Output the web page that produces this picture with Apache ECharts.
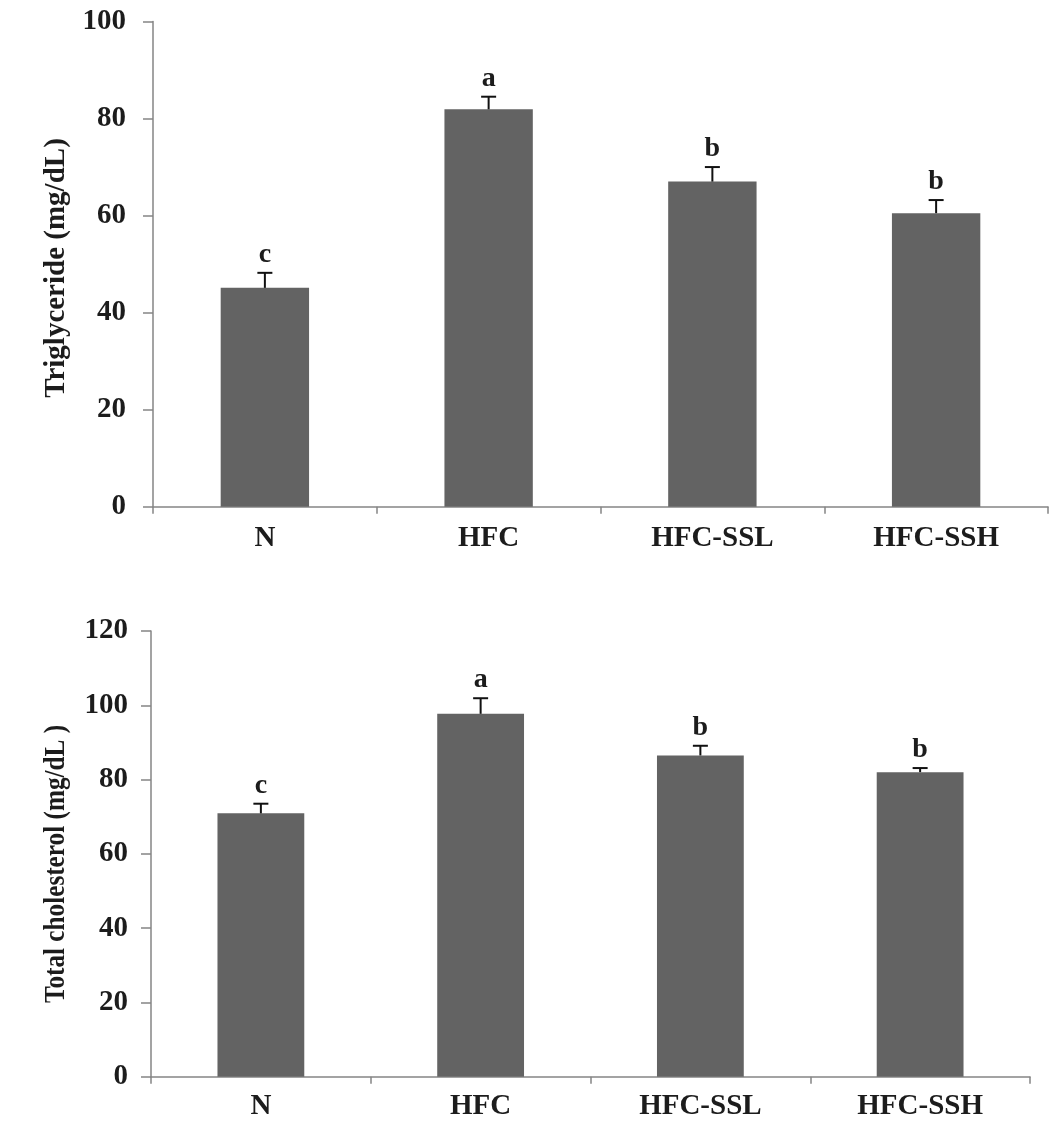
<!DOCTYPE html>
<html>
<head>
<meta charset="utf-8">
<script src="https://cdn.jsdelivr.net/npm/echarts@6/dist/echarts.min.js"></script>
<style>
  html, body { margin: 0; padding: 0; background: #ffffff; }
  #chart { width: 1049px; height: 1121px; }
</style>
</head>
<body>
<div id="chart"></div>
<script>
// Groups
const groups = ['N', 'HFC', 'HFC-SSL', 'HFC-SSH'];

// Serum triglyceride (mg/dL): means, SE and significance letters
const tgMean = [45.1, 81.9, 67.0, 60.5];
const tgErr = [3.1, 2.6, 3.0, 2.7];
const tgLetters = ['c', 'a', 'b', 'b'];
const tgTicks = [0, 20, 40, 60, 80, 100];

// Serum total cholesterol (mg/dL): means, SE and significance letters
const tcMean = [70.9, 97.7, 86.5, 82.0];
const tcErr = [2.6, 4.2, 2.6, 1.1];
const tcLetters = ['c', 'a', 'b', 'b'];
const tcTicks = [0, 20, 40, 60, 80, 100, 120];

const tgTitle = 'Triglyceride (mg/dL)';
const tcTitle = 'Total cholesterol (mg/dL )';

const FONT = '"Liberation Serif", "Times New Roman", serif';
const INK = '#1c1c1c';
const AXIS = '#858585';
const BAR = '#636363';

function errorSeries(idx, means, errs, letters) {
  return {
    type: 'custom',
    xAxisIndex: idx,
    yAxisIndex: idx,
    data: means.map((m, i) => [i, m, errs[i]]),
    z: 5,
    renderItem: function (params, api) {
      const i = api.value(0);
      const base = api.coord([i, api.value(1)]);
      const top = api.coord([i, api.value(1) + api.value(2)]);
      const cap = 7.5;
      return {
        type: 'group',
        children: [
          { type: 'line', shape: { x1: base[0], y1: base[1], x2: top[0], y2: top[1] },
            style: { stroke: '#111', lineWidth: 2 } },
          { type: 'line', shape: { x1: top[0] - cap, y1: top[1], x2: top[0] + cap, y2: top[1] },
            style: { stroke: '#111', lineWidth: 2 } },
          { type: 'text', x: top[0], y: top[1] - 4,
            style: { text: letters[params.dataIndex], fill: INK, font: 'bold 28px ' + FONT,
                     align: 'center', verticalAlign: 'bottom' } }
        ]
      };
    }
  };
}

function xAxis(idx) {
  return {
    type: 'category',
    gridIndex: idx,
    data: groups,
    boundaryGap: true,
    axisLine: { lineStyle: { color: AXIS, width: 1.5 } },
    axisTick: { show: true, length: 7, inside: false, lineStyle: { color: AXIS, width: 1.5 } },
    axisLabel: { color: INK, fontFamily: FONT, fontWeight: 'bold', fontSize: 29,
                 margin: idx === 0 ? 17 : 15 },
    splitLine: { show: false }
  };
}

function yAxis(idx, ticks) {
  return {
    type: 'value',
    gridIndex: idx,
    min: ticks[0],
    max: ticks[ticks.length - 1],
    interval: ticks[1] - ticks[0],
    axisLine: { show: true, lineStyle: { color: AXIS, width: 1.5 } },
    axisTick: { show: true, length: 10, inside: false, lineStyle: { color: AXIS, width: 1.5 } },
    axisLabel: { color: INK, fontFamily: FONT, fontWeight: 'bold', fontSize: 29,
                 margin: idx === 0 ? 27 : 23,
                 formatter: v => (ticks.indexOf(v) >= 0 ? String(v) : '') },
    splitLine: { show: false }
  };
}

// Rotated y-axis titles; the cholesterol title is set slightly condensed
function axisTitle(text, x, y, squeeze) {
  return {
    type: 'text', x: x, y: y, rotation: Math.PI / 2, scaleX: squeeze, scaleY: 1,
    style: { text: text, fill: INK, font: 'bold 29px ' + FONT,
             align: 'center', verticalAlign: 'middle' }
  };
}

const chart = echarts.init(document.getElementById('chart'), null, { renderer: 'canvas' });
chart.setOption({
  backgroundColor: '#ffffff',
  animation: false,
  grid: [
    { left: 153, right: 1, top: 21.5, bottom: 614.3 },
    { left: 151, right: 19, top: 631, bottom: 44.3 }
  ],
  xAxis: [xAxis(0), xAxis(1)],
  yAxis: [yAxis(0, tgTicks), yAxis(1, tcTicks)],
  graphic: [
    axisTitle(tgTitle, 57, 268, 1),
    axisTitle(tcTitle, 57, 864, 0.87)
  ],
  series: [
    { type: 'bar', xAxisIndex: 0, yAxisIndex: 0, data: tgMean, barWidth: '39.5%',
      itemStyle: { color: BAR } },
    errorSeries(0, tgMean, tgErr, tgLetters),
    { type: 'bar', xAxisIndex: 1, yAxisIndex: 1, data: tcMean, barWidth: '39.5%',
      itemStyle: { color: BAR } },
    errorSeries(1, tcMean, tcErr, tcLetters)
  ]
});
</script>
</body>
</html>
